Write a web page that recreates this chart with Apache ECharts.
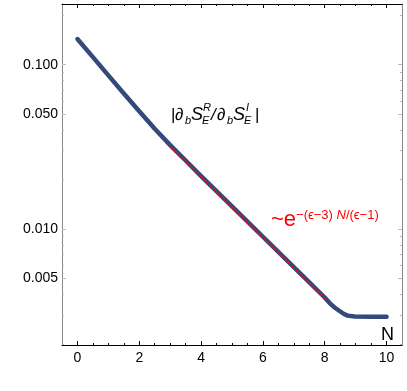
<!DOCTYPE html>
<html>
<head>
<meta charset="UTF-8">
<title>ratio</title>
<script src="https://cdn.jsdelivr.net/npm/echarts@6/dist/echarts.min.js"></script>
<style>
  html, body { margin: 0; padding: 0; background: #fff; }
  #main { width: 407px; height: 391px; }
</style>
</head>
<body>
<div id="main"></div>
<script>
// values
var nValues = [0, 0.5, 1, 1.5, 2, 2.5, 3, 3.5, 4, 5, 6, 7, 8, 8.16, 8.32, 8.48, 8.61, 8.74, 8.97, 9.5, 10];
var ratioValues = [0.1432, 0.1112, 0.0861, 0.0668, 0.0521, 0.0407, 0.0324, 0.0261, 0.0210, 0.01374, 0.00897,
                   0.00586, 0.00383, 0.00354, 0.00333, 0.00317, 0.00305, 0.00297, 0.00293, 0.00292, 0.00292];
var fitN = [3, 8.05];
var fitValues = [0.0316, 0.00372];

var xMajorTicks = [0, 2, 4, 6, 8, 10];
var xMinorTicks = [0.5, 1, 1.5, 2.5, 3, 3.5, 4.5, 5, 5.5, 6.5, 7, 7.5, 8.5, 9, 9.5];
var yMajorTicks = [0.005, 0.01, 0.05, 0.1];
var yMinorTicks = [0.002, 0.003, 0.004, 0.006, 0.007, 0.008, 0.009,
                   0.02, 0.03, 0.04, 0.06, 0.07, 0.08, 0.09, 0.2];

var font = 'Liberation Sans';
var chart = echarts.init(document.getElementById('main'));

function xAx(pos, ticks, len, showLine, showLabel) {
  return {
    type: 'value', position: pos, min: -0.5, max: 10.5,
    axisLine: { show: showLine, onZero: false, lineStyle: { color: '#000', width: 1 } },
    axisTick: { show: true, inside: true, length: len, customValues: ticks, lineStyle: { color: '#000' } },
    axisLabel: { show: showLabel, customValues: xMajorTicks, color: '#000', fontSize: 14, fontFamily: font, margin: 6 },
    splitLine: { show: false }
  };
}
function yAx(pos, ticks, len, showLine, showLabel) {
  return {
    type: 'log', logBase: 10, position: pos, min: 0.001968, max: 0.234,
    axisLine: { show: showLine, onZero: false, lineStyle: { color: '#888', width: 1 } },
    axisTick: { show: true, inside: true, length: len, customValues: ticks, lineStyle: { color: '#bbb' } },
    axisLabel: {
      show: showLabel, customValues: yMajorTicks, color: '#000', fontSize: 14, fontFamily: font, margin: 4,
      formatter: function (v) { return Number(v).toFixed(3); }
    },
    splitLine: { show: false }
  };
}

function txt(s, x, y, size, italic, color) {
  return { type: 'text', x: x, y: y, style: {
    text: s, fontSize: size, fontStyle: italic ? 'italic' : 'normal', fontFamily: font,
    fill: color || '#000', verticalAlign: 'middle' } };
}

var option = {
  animation: false,
  grid: { left: 62, right: 5, top: 4, bottom: 46 },
  xAxis: [
    xAx('bottom', xMajorTicks, 4, true, true),
    xAx('bottom', xMinorTicks, 2, false, false),
    xAx('top', xMajorTicks, 4, true, false),
    xAx('top', xMinorTicks, 2, false, false)
  ],
  yAxis: [
    yAx('left', yMajorTicks, 4, true, true),
    yAx('left', yMinorTicks, 2, false, false),
    yAx('right', yMajorTicks, 4, true, false),
    yAx('right', yMinorTicks, 2, false, false)
  ],
  series: [
    {
      type: 'line', xAxisIndex: 0, yAxisIndex: 0, showSymbol: false,
      data: nValues.map(function (n, i) { return [n, ratioValues[i]]; }),
      lineStyle: { color: '#344a7a', width: 4.5, cap: 'round', join: 'round' }
    },
    {
      type: 'line', xAxisIndex: 0, yAxisIndex: 0, showSymbol: false,
      data: fitN.map(function (n, i) { return [n, fitValues[i]]; }),
      lineStyle: { color: '#ff0000', width: 1.6, type: [3, 2] }
    }
  ],
  graphic: [
    {
      type: 'group', x: 171, y: 100,
      children: [
        txt('|', 0, 15, 17, false),
        txt('\u2202', 4, 15, 17, false),
        txt('b', 14, 21, 11, true),
        txt('S', 20, 15, 18, true),
        txt('R', 32, 8, 11, true),
        txt('E', 31, 21, 11, true),
        txt('/', 40, 15, 17, true),
        txt('\u2202', 46, 15, 17, false),
        txt('b', 56, 21, 11, true),
        txt('S', 62, 15, 18, true),
        txt('I', 75, 8, 11, true),
        txt('E', 73, 21, 11, true),
        txt('|', 84, 15, 17, false)
      ]
    },
    {
      type: 'text', x: 271, y: 209,
      style: {
        text: '{m|~e}{s|\u2212(\u03F5\u22123) }{si|N}{s|/(\u03F5\u22121)}',
        fill: '#ff0000',
        rich: {
          m: { fontSize: 22, fontFamily: font, fill: '#ff0000', verticalAlign: 'bottom' },
          s: { fontSize: 13, fontFamily: font, fill: '#ff0000', verticalAlign: 'top' },
          si: { fontSize: 13, fontFamily: font, fontStyle: 'italic', fill: '#ff0000', verticalAlign: 'top' }
        }
      }
    },
    txt('N', 381, 335, 18, false)
  ]
};
chart.setOption(option);
</script>
</body>
</html>
